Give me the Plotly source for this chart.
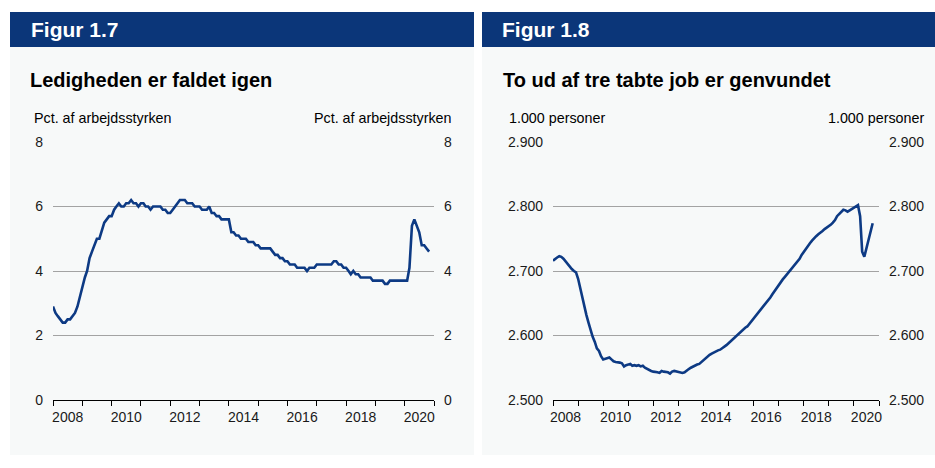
import pandas as pd
import plotly.graph_objects as go

# ---------------- data ----------------
start_month = "2008-01-01"

# Figur 1.7: gross unemployment, pct. of labour force (monthly from Jan 2008)
unemployment = [
    2.9, 2.7, 2.6, 2.5, 2.4, 2.4, 2.5, 2.5, 2.6, 2.7, 2.9, 3.2,   # 2008
    3.5, 3.8, 4.0, 4.4, 4.6, 4.8, 5.0, 5.0, 5.3, 5.5, 5.6, 5.7,   # 2009
    5.7, 5.9, 6.0, 6.1, 6.0, 6.0, 6.1, 6.1, 6.2, 6.1, 6.1, 6.0,   # 2010
    6.1, 6.1, 6.0, 6.0, 5.9, 6.0, 6.0, 6.0, 6.0, 5.9, 5.9, 5.8,   # 2011
    5.8, 5.9, 6.0, 6.1, 6.2, 6.2, 6.2, 6.1, 6.1, 6.1, 6.0, 6.0,   # 2012
    6.0, 5.9, 5.9, 5.9, 6.0, 5.8, 5.8, 5.7, 5.7, 5.6, 5.6, 5.6,   # 2013
    5.6, 5.2, 5.2, 5.1, 5.1, 5.0, 5.0, 5.0, 4.9, 4.9, 4.9, 4.8,   # 2014
    4.8, 4.7, 4.7, 4.7, 4.7, 4.7, 4.6, 4.5, 4.5, 4.4, 4.4, 4.3,   # 2015
    4.3, 4.2, 4.2, 4.2, 4.1, 4.1, 4.1, 4.1, 4.0, 4.1, 4.1, 4.1,   # 2016
    4.2, 4.2, 4.2, 4.2, 4.2, 4.2, 4.2, 4.3, 4.3, 4.2, 4.2, 4.1,   # 2017
    4.1, 4.0, 3.9, 4.0, 3.9, 3.9, 3.8, 3.8, 3.8, 3.8, 3.8, 3.7,   # 2018
    3.7, 3.7, 3.7, 3.7, 3.6, 3.6, 3.7, 3.7, 3.7, 3.7, 3.7, 3.7,   # 2019
    3.7, 3.7, 4.1, 5.4, 5.6, 5.4, 5.2, 4.8, 4.8, 4.7, 4.6,        # 2020
]

# Figur 1.8: employment, 1.000 persons (monthly from Jan 2008)
employment = [
    2716, 2719, 2721, 2723, 2722, 2719, 2715, 2710, 2706, 2703, 2700, 2698,  # 2008
    2688, 2673, 2658, 2645, 2632, 2620, 2608, 2598, 2590, 2580, 2576, 2568,  # 2009
    2563, 2564, 2566, 2566, 2563, 2560, 2559, 2559, 2558, 2557, 2552, 2554,  # 2010
    2555, 2556, 2553, 2554, 2553, 2554, 2552, 2553, 2550, 2548, 2547, 2545,  # 2011
    2544, 2544, 2543, 2542, 2545, 2544, 2544, 2543, 2541, 2544, 2545, 2544,  # 2012
    2543, 2542, 2542, 2543, 2546, 2548, 2550, 2552, 2553, 2555, 2556, 2559,  # 2013
    2562, 2565, 2568, 2570, 2572, 2574, 2575, 2577, 2578, 2580, 2583, 2585,  # 2014
    2588, 2591, 2595, 2598, 2601, 2604, 2607, 2609, 2612, 2614, 2618, 2622,  # 2015
    2626, 2630, 2634, 2638, 2642, 2646, 2650, 2654, 2659, 2664, 2669, 2672,  # 2016
    2677, 2682, 2687, 2691, 2695, 2699, 2702, 2706, 2710, 2714, 2719, 2725,  # 2017
    2730, 2735, 2739, 2743, 2747, 2751, 2754, 2757, 2759, 2762, 2765, 2767,  # 2018
    2769, 2772, 2775, 2779, 2785, 2788, 2792, 2795, 2794, 2792, 2794, 2796,  # 2019
    2797, 2799, 2802, 2785, 2730, 2722, 2735, 2748, 2761, 2774,              # 2020
]

year_labels = ["2008", "2010", "2012", "2014", "2016", "2018", "2020"]

# ---------------- styling ----------------
W, H = 935, 468
NAVY = "#0b3679"
LINE = "#0d3a84"
PANEL = "#f7f9f9"
GRID = "#a3a3a3"
FONT = "Arial, Liberation Sans, sans-serif"


def px(x):
    return x / W


def py(y):
    return 1 - y / H


dates_u = pd.date_range(start_month, periods=len(unemployment), freq="MS")
dates_e = pd.date_range(start_month, periods=len(employment), freq="MS")
tickvals = [f"{y}-07-02" for y in year_labels]

fig = go.Figure()
line_style = dict(color=LINE, width=2.6)
fig.add_trace(go.Scatter(x=dates_u, y=unemployment, mode="lines", line=line_style,
                         xaxis="x", yaxis="y", showlegend=False))
fig.add_trace(go.Scatter(x=dates_u, y=unemployment, mode="lines", opacity=0,
                         xaxis="x", yaxis="y2", showlegend=False, hoverinfo="skip"))
fig.add_trace(go.Scatter(x=dates_e, y=employment, mode="lines", line=line_style,
                         xaxis="x2", yaxis="y3", showlegend=False))
fig.add_trace(go.Scatter(x=dates_e, y=employment, mode="lines", opacity=0,
                         xaxis="x2", yaxis="y4", showlegend=False, hoverinfo="skip"))

ydom = [py(400), py(142)]
tickfont = dict(family=FONT, size=14, color="#1a1a1a")


def xaxis(dom, anchor):
    return dict(
        domain=dom, anchor=anchor, type="date", automargin=False,
        range=[start_month, "2021-01-01"],
        tickmode="array", tickvals=tickvals, ticktext=year_labels,
        ticks="", showgrid=False, zeroline=False,
        showline=True, linecolor="black", linewidth=1,
        tickfont=tickfont, ticklabelstandoff=4,
        minor=dict(ticks="outside", dtick="M12", tick0=start_month,
                   ticklen=5, tickcolor="black", tickwidth=1, showgrid=False),
    )


def yaxis(rng, dtick, side, anchor, overlay=None, grid=True, fmt=None):
    d = dict(
        domain=ydom, range=rng, dtick=dtick, tick0=rng[0], side=side, anchor=anchor,
        showgrid=grid, gridcolor=GRID, gridwidth=1, zeroline=False, showline=False,
        ticks="", tickfont=tickfont, ticklabelstandoff=9, fixedrange=True,
        automargin=False,
    )
    if overlay:
        d["overlaying"] = overlay
    if fmt:
        d["tickformat"] = fmt
    return d


fig.update_layout(
    width=W, height=H,
    margin=dict(l=0, r=0, t=0, b=0, pad=0, autoexpand=False),
    paper_bgcolor="white", plot_bgcolor="rgba(0,0,0,0)",
    separators=",.",
    font=dict(family=FONT, color="black"),
    xaxis=xaxis([px(53), px(434)], "y"),
    yaxis=yaxis([0, 8], 2, "left", "x"),
    yaxis2=yaxis([0, 8], 2, "right", "x", overlay="y", grid=False),
    xaxis2=xaxis([px(553), px(879)], "y3"),
    yaxis3=yaxis([2500, 2900], 100, "left", "x2", fmt=",d"),
    yaxis4=yaxis([2500, 2900], 100, "right", "x2", overlay="y3", grid=False, fmt=",d"),
)

shapes = []
for x0, x1 in [(10, 474), (482, 935)]:
    shapes.append(dict(type="rect", xref="paper", yref="paper", layer="below",
                       x0=px(x0), x1=px(x1), y0=py(455), y1=py(47),
                       fillcolor=PANEL, line=dict(width=0)))
    shapes.append(dict(type="rect", xref="paper", yref="paper", layer="below",
                       x0=px(x0), x1=px(x1), y0=py(47), y1=py(12),
                       fillcolor=NAVY, line=dict(width=0)))
fig.update_layout(shapes=shapes)


def ann(text, x, y, size, bold=False, color="black", xanchor="left"):
    return dict(text=f"<b>{text}</b>" if bold else text, x=px(x), y=py(y),
                xref="paper", yref="paper", xanchor=xanchor, yanchor="middle",
                showarrow=False, font=dict(family=FONT, size=size, color=color))


annotations = [
    ann("Figur 1.7", 29, 30, 21, bold=True, color="white"),
    ann("Ledigheden er faldet igen", 28, 80, 20, bold=True),
    ann("Pct. af arbejdsstyrken", 32, 118, 14.3),
    ann("Pct. af arbejdsstyrken", 454, 118, 14.3, xanchor="right"),
    ann("Figur 1.8", 500, 30, 21, bold=True, color="white"),
    ann("To ud af tre tabte job er genvundet", 501, 80, 20, bold=True),
    ann("1.000 personer", 507, 118, 14.3),
    ann("1.000 personer", 926, 118, 14.3, xanchor="right"),
]
fig.update_layout(annotations=annotations)

fig.write_html("out.html",
               config={"displayModeBar": False},
               post_script="document.body.style.margin='0';document.body.style.overflow='hidden';")
